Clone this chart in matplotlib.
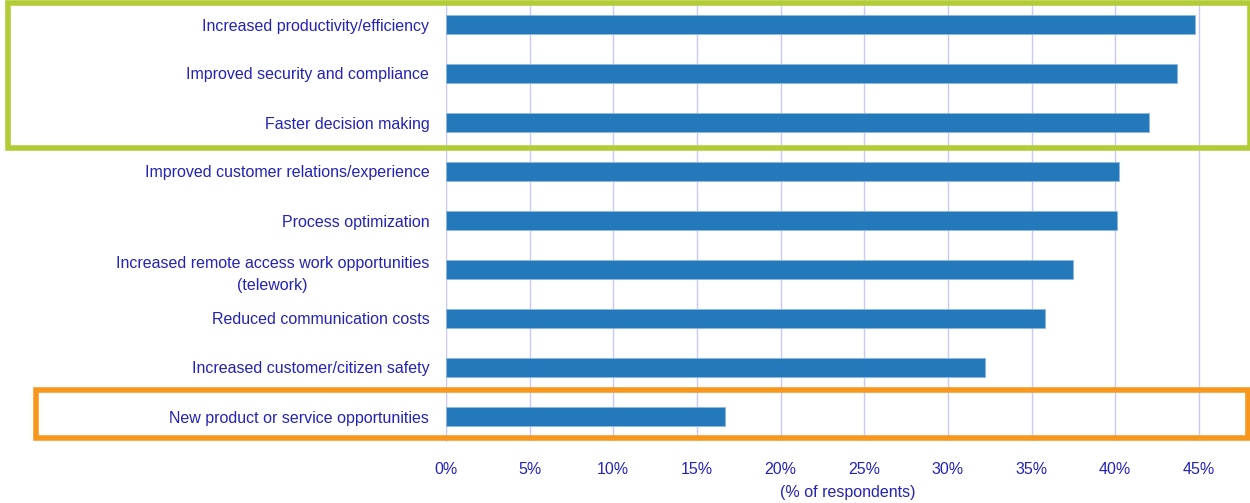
import matplotlib
matplotlib.use("Agg")
import matplotlib.pyplot as plt
from matplotlib.patches import Rectangle
from matplotlib.ticker import FuncFormatter

plt.rcParams["font.family"] = ["Liberation Sans", "DejaVu Sans"]

categories = [
    "Increased productivity/efficiency",
    "Improved security and compliance",
    "Faster decision making",
    "Improved customer relations/experience",
    "Process optimization",
    "Increased remote access work opportunities\n(telework)",
    "Reduced communication costs",
    "Increased customer/citizen safety",
    "New product or service opportunities",
]
values = [44.8, 43.7, 42.0, 40.2, 40.1, 37.5, 35.8, 32.2, 16.7]
xticks = [0, 5, 10, 15, 20, 25, 30, 35, 40, 45]

TEXT = "#2323b8"
GRID = "#c9c9f5"
BAR = "#2479bb"

fig = plt.figure(figsize=(12.5, 5.03), dpi=100)
ax = fig.add_axes([446 / 1250, 62 / 503, 1 - 446 / 1250, 441 / 503])

y = list(range(len(categories)))
ax.barh(y, values, height=0.39, color=BAR, edgecolor="#8fb8e0", linewidth=0.6, zorder=3)
ax.set_ylim(len(categories) - 0.5, -0.5)
ax.set_xlim(0, 48.06)

ax.set_yticks(y)
ax.set_yticklabels(categories, fontsize=11.5, color=TEXT)
for lab in ax.get_yticklabels():
    lab.set_multialignment("center")
    lab.set_linespacing(1.55)
ax.set_xticks(xticks)
ax.xaxis.set_major_formatter(FuncFormatter(lambda v, p: f"{v:.0f}%"))
ax.tick_params(axis="x", labelsize=11.5, labelcolor=TEXT, length=0, pad=15)
ax.tick_params(axis="y", length=0, pad=12)
ax.set_xlabel("(% of respondents)", fontsize=11.5, color=TEXT, labelpad=6)

ax.grid(axis="x", color=GRID, linewidth=1, zorder=0)
for side in ["top", "right", "bottom"]:
    ax.spines[side].set_visible(False)
ax.spines["left"].set_color(GRID)

# highlight boxes
fig.patches.append(Rectangle((8 / 1250, 1 - 148 / 503), 1242 / 1250, 145 / 503,
                             transform=fig.transFigure, fill=False,
                             edgecolor="#b1cc35", linewidth=4, zorder=10))
fig.patches.append(Rectangle((36 / 1250, 1 - 438 / 503), 1212 / 1250, 48 / 503,
                             transform=fig.transFigure, fill=False,
                             edgecolor="#f7981d", linewidth=4, zorder=10))

fig.savefig("out.png", dpi=100)
